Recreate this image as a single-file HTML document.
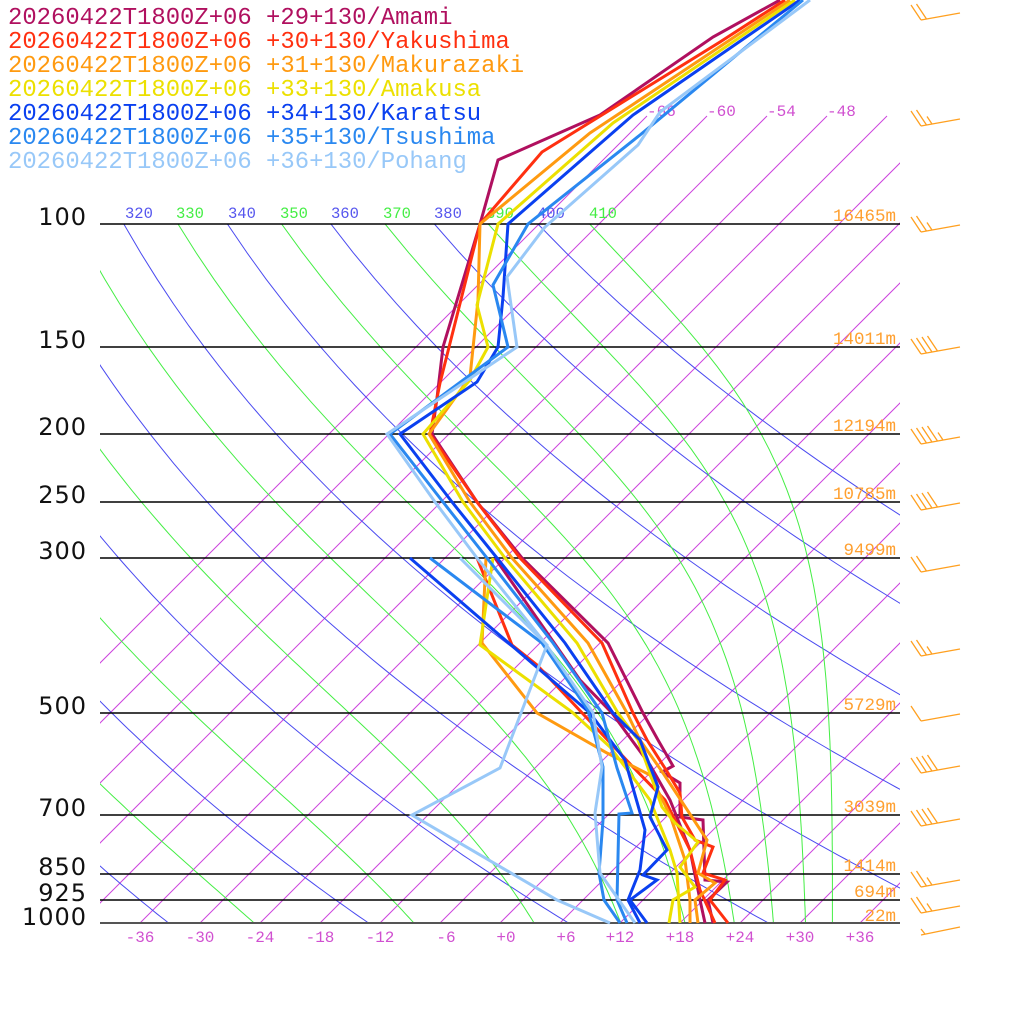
<!DOCTYPE html>
<html><head><meta charset="utf-8"><style>
html,body{margin:0;padding:0;background:#fff;}
svg{display:block;}
.lg{font-family:"Liberation Mono",monospace;font-size:23.9px;}
.pl{font-family:"DejaVu Sans","Liberation Sans",sans-serif;font-size:24px;fill:#111;letter-spacing:1px;}
.hl{font-family:"Liberation Mono",monospace;font-size:17.5px;fill:#ffa030;}
.tk{font-family:"Liberation Mono",monospace;font-size:16px;fill:#d050d0;}
.th{font-family:"Liberation Mono",monospace;font-size:15.5px;}
</style></head><body>
<svg id="s" width="1024" height="1024" viewBox="0 0 1024 1024" xmlns="http://www.w3.org/2000/svg">
<defs>
<clipPath id="ca"><rect x="100" y="224" width="800" height="699"/></clipPath>
<clipPath id="ci"><rect x="100" y="100" width="800" height="823"/></clipPath>
<clipPath id="cl"><rect x="100" y="190" width="900" height="40"/></clipPath>
</defs>
<rect width="1024" height="1024" fill="#fff"/>
<g id="iso" clip-path="url(#ci)" stroke="#cc44dd" stroke-width="1" fill="none"></g>
<g id="adb" clip-path="url(#ca)" fill="none"></g>
<g stroke="#000" stroke-width="1.4">
<line x1="100" y1="224" x2="900" y2="224"/>
<line x1="100" y1="347" x2="900" y2="347"/>
<line x1="100" y1="434" x2="900" y2="434"/>
<line x1="100" y1="502" x2="900" y2="502"/>
<line x1="100" y1="558" x2="900" y2="558"/>
<line x1="100" y1="713" x2="900" y2="713"/>
<line x1="100" y1="815" x2="900" y2="815"/>
<line x1="100" y1="874" x2="900" y2="874"/>
<line x1="100" y1="900" x2="900" y2="900"/>
<line x1="100" y1="923" x2="900" y2="923" stroke="#555" stroke-width="2"/>
</g>
<g class="pl" text-anchor="end">
<text x="87" y="225">100</text><text x="87" y="348">150</text><text x="87" y="435">200</text>
<text x="87" y="503">250</text><text x="87" y="559">300</text><text x="87" y="714">500</text>
<text x="87" y="816">700</text><text x="87" y="875">850</text><text x="87" y="901">925</text>
<text x="87" y="925">1000</text>
</g>
<g class="hl" text-anchor="end">
<text x="896" y="221">16465m</text><text x="896" y="344">14011m</text><text x="896" y="431">12194m</text>
<text x="896" y="499">10785m</text><text x="896" y="555">9499m</text><text x="896" y="710">5729m</text>
<text x="896" y="812">3039m</text><text x="896" y="871">1414m</text><text x="896" y="897">694m</text>
<text x="896" y="921">22m</text>
</g>
<g class="tk" text-anchor="middle">
<text x="140" y="942">-36</text><text x="200" y="942">-30</text><text x="260" y="942">-24</text>
<text x="320" y="942">-18</text><text x="380" y="942">-12</text><text x="446" y="942">-6</text>
<text x="506" y="942">+0</text><text x="566" y="942">+6</text><text x="620" y="942">+12</text>
<text x="680" y="942">+18</text><text x="740" y="942">+24</text><text x="800" y="942">+30</text>
<text x="860" y="942">+36</text>
</g>
<g class="tk">
<text x="647" y="116">-66</text><text x="707" y="116">-60</text><text x="767" y="116">-54</text><text x="827" y="116">-48</text>
</g>
<g class="th" clip-path="url(#cl)">
<text x="73" y="218" fill="#44ee44">310</text>
<text x="125" y="218" fill="#5555ee">320</text>
<text x="176" y="218" fill="#44ee44">330</text>
<text x="228" y="218" fill="#5555ee">340</text>
<text x="280" y="218" fill="#44ee44">350</text>
<text x="331" y="218" fill="#5555ee">360</text>
<text x="383" y="218" fill="#44ee44">370</text>
<text x="434" y="218" fill="#5555ee">380</text>
<text x="486" y="218" fill="#44ee44">390</text>
<text x="537" y="218" fill="#5555ee">400</text>
<text x="589" y="218" fill="#44ee44">410</text>
</g>
<g id="prof" fill="none" stroke-width="3" stroke-linejoin="miter"></g>
<g id="barbs" stroke="#ffa020" stroke-width="1.3" fill="none"></g>
<g class="lg">
<text x="8" y="24" fill="#b0105f">20260422T1800Z+06 +29+130/Amami</text>
<text x="8" y="48" fill="#ff3010">20260422T1800Z+06 +30+130/Yakushima</text>
<text x="8" y="72" fill="#ff9a10">20260422T1800Z+06 +31+130/Makurazaki</text>
<text x="8" y="96" fill="#ece000">20260422T1800Z+06 +33+130/Amakusa</text>
<text x="8" y="120" fill="#0a40f0">20260422T1800Z+06 +34+130/Karatsu</text>
<text x="8" y="144" fill="#2a88f0">20260422T1800Z+06 +35+130/Tsushima</text>
<text x="8" y="168" fill="#98c8f8">20260422T1800Z+06 +36+130/Pohang</text>
</g>
</svg>
<script>
(function(){
var NS="http://www.w3.org/2000/svg";
function Y(p){return 923-699*Math.log10(1000/p);}
function X(T,p){return 500+10*T+(923-Y(p));}
function add(g,d,c,w){var e=document.createElementNS(NS,"path");e.setAttribute("d",d);if(c)e.setAttribute("stroke",c);if(w)e.setAttribute("stroke-width",w);g.appendChild(e);}
var iso=document.getElementById("iso");
for(var T=-66;T<=40;T+=6){var xb=500+10*T;add(iso,"M"+xb+",923L"+(xb+807)+",116");}
var adb=document.getElementById("adb");
for(var th=240;th<=400;th+=20){var d="";for(var p=1000;p>=100;p-=10){var t=th*Math.pow(p/1000,0.286)-273.15;d+=(p==1000?"M":"L")+X(t,p).toFixed(1)+","+Y(p).toFixed(1);}add(adb,d,"#4a4af0","1");}
function es(tc){return 6.112*Math.exp(17.67*tc/(tc+243.5));}
function the(TK,p){var e=es(TK-273.15);var r=622*e/(p-e);return TK*Math.pow(1000/p,0.2854*(1-0.00028*r))*Math.exp((3.376/TK-0.00254)*r*(1+0.00081*r));}
for(var te=250;te<=410;te+=20){var d2="";for(var p2=1000;p2>=100;p2-=10){var lo=150,hi=330;for(var i=0;i<50;i++){var m=(lo+hi)/2;if(the(m,p2)<te)lo=m;else hi=m;}var tc=(lo+hi)/2-273.15;d2+=(p2==1000?"M":"L")+X(tc,p2).toFixed(1)+","+Y(p2).toFixed(1);}add(adb,d2,"#44ee44","1");}
var prof=document.getElementById("prof");
var S=[
["#b0105f",[[780,0],[713,37],[600,115],[498,160],[480,224],[443,347],[437,398],[432,434],[477,502],[522,558],[608,643],[643,713],[658,740],[673,766],[662,772],[680,783],[680,817],[703,820],[705,880],[727,882],[708,900],[713,923]],
 [[495,558],[580,680],[612,713],[650,765],[670,800],[690,850],[700,900],[705,923]]],
["#ff3010",[[785,0],[720,42],[542,152],[480,224],[440,383],[430,434],[477,502],[520,558],[602,643],[633,713],[647,740],[668,773],[680,793],[682,817],[695,840],[713,847],[703,873],[725,880],[710,900],[728,923]],
 [[477,558],[512,645],[537,665],[633,767],[665,800],[690,850],[700,890],[715,923]]],
["#ff9a10",[[790,0],[590,133],[480,224],[478,300],[470,377],[429,434],[470,502],[512,558],[588,643],[627,713],[640,740],[663,773],[707,840],[698,873],[715,883],[695,900],[698,923]],
 [[486,558],[482,643],[537,713],[607,753],[650,775],[670,815],[685,860],[690,900],[690,923]]],
["#ece000",[[795,0],[613,123],[498,224],[477,305],[488,347],[470,380],[423,434],[463,502],[505,558],[577,643],[618,713],[638,740],[662,807],[675,823],[698,842],[680,867],[695,887],[673,900],[669,923]],
 [[493,558],[480,645],[572,712],[610,747],[650,800],[670,850],[677,873],[680,923]]],
["#0a40f0",[[800,0],[633,115],[508,224],[503,297],[498,347],[477,382],[400,434],[452,502],[497,558],[565,643],[613,713],[640,740],[658,787],[650,817],[667,850],[643,875],[657,880],[630,900],[647,923]],
 [[410,558],[590,713],[625,760],[645,830],[640,870],[628,900],[640,923]]],
["#2a88f0",[[803,0],[640,135],[528,224],[493,285],[508,347],[390,434],[443,502],[487,558],[553,643],[602,713],[617,768],[632,813],[619,814],[617,900],[627,923]],
 [[430,558],[542,643],[588,710],[603,767],[603,820],[599,873],[604,900],[620,923]]],
["#98c8f8",[[810,0],[660,112],[638,145],[545,227],[507,277],[517,347],[387,434],[435,502],[477,558],[545,643],[593,713],[602,767],[595,813],[600,873],[635,923]],
 [[460,558],[547,645],[500,768],[412,815],[557,900],[610,923]]]
];
function pd(a){return "M"+a.map(function(q){return q[0]+","+q[1];}).join("L");}
S.forEach(function(s){add(prof,pd(s[1]),s[0],"3");add(prof,pd(s[2]),s[0],"3");});
var B=[[20,2],[126,3],[232,3],[354,4],[444,5],[510,4],[572,2],[656,3],[721,1],[773,4],[826,4],[887,3],[913,3],[935,1]];
var bg=document.getElementById("barbs");
B.forEach(function(b){var y=b[0];var d="M921,"+y+"L960,"+(y-7);
 for(var k=0;k<b[1];k++){var x0=921+k*5.5,y0=y-k*1;var half=(k==b[1]-1&&b[1]>2&&b[1]%2==1);var L=half?0.5:1;d+="M"+x0+","+y0+"L"+(x0-10*L)+","+(y0-15*L);}
 if(b[0]==935){d="M921,"+y+"L960,"+(y-8)+"M925,"+(y-1)+"L921,"+(y-6);}
 add(bg,d);});
})();
</script>
</body></html>
